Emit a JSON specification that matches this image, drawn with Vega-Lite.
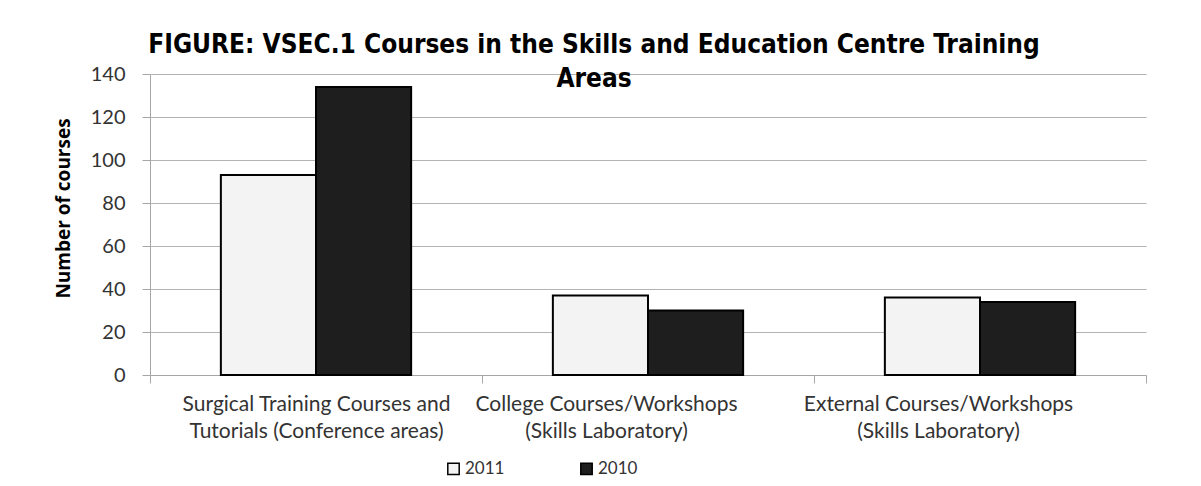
{
  "$schema": "https://vega.github.io/schema/vega-lite/v6.json",
  "width": 996,
  "height": 301,
  "autosize": {"type": "none"},
  "padding": {"left": 150, "top": 74, "right": 55, "bottom": 111},
  "background": "white",
  "title": {
    "text": ["FIGURE: VSEC.1 Courses in the Skills and Education Centre Training", "Areas"],
    "font": "DejaVu Sans Condensed, DejaVu Sans",
    "fontSize": 26,
    "fontWeight": "bold",
    "color": "#000000",
    "anchor": "middle",
    "dx": -54,
    "lineHeight": 34,
    "baseline": "top",
    "offset": -28,
    "frame": "group"
  },
  "data": {
    "values": [
      {"area": "Surgical Training Courses and|Tutorials (Conference areas)", "ord": 1, "year": "2011", "courses": 93},
      {"area": "Surgical Training Courses and|Tutorials (Conference areas)", "ord": 1, "year": "2010", "courses": 134},
      {"area": "College Courses/Workshops|(Skills Laboratory)", "ord": 2, "year": "2011", "courses": 37},
      {"area": "College Courses/Workshops|(Skills Laboratory)", "ord": 2, "year": "2010", "courses": 30},
      {"area": "External Courses/Workshops|(Skills Laboratory)", "ord": 3, "year": "2011", "courses": 36},
      {"area": "External Courses/Workshops|(Skills Laboratory)", "ord": 3, "year": "2010", "courses": 34}
    ]
  },
  "mark": {"type": "bar", "stroke": "#000000", "strokeWidth": 2},
  "encoding": {
    "x": {
      "field": "area",
      "type": "nominal",
      "sort": {"field": "ord"},
      "scale": {"paddingInner": 0, "paddingOuter": 0},
      "axis": {
        "title": null,
        "labelAngle": 0,
        "labelExpr": "split(datum.label, '|')",
        "labelLimit": 0,
        "labelFont": "Lato",
        "labelFontSize": 21,
        "labelColor": "#333333",
        "labelLineHeight": 27,
        "labelBaseline": "top",
        "labelPadding": 10,
        "labelOffset": {"condition": {"test": "datum.index > 0", "value": -42}, "value": 0},
        "tickBand": "extent",
        "tickSize": 8,
        "tickColor": "#a6a6a6",
        "domainColor": "#a6a6a6",
        "grid": false
      }
    },
    "xOffset": {"field": "year", "type": "nominal", "sort": ["2011", "2010"], "scale": {"paddingInner": 0, "paddingOuter": 0.745}},
    "y": {
      "field": "courses",
      "type": "quantitative",
      "scale": {"domain": [0, 140]},
      "axis": {
        "title": "Number of courses",
        "titleFont": "Open Sans",
        "titleFontSize": 19,
        "titleFontWeight": "bold",
        "titleColor": "#000000",
        "titleX": -87,
        "titleY": 134,
        "titleAngle": -90,
        "titleAlign": "center",
        "titleBaseline": "middle",
        "values": [0, 20, 40, 60, 80, 100, 120, 140],
        "labelFont": "Lato",
        "labelFontSize": 20,
        "labelColor": "#333333",
        "labelPadding": 17,
        "tickSize": 8,
        "tickColor": "#a6a6a6",
        "domainColor": "#a6a6a6",
        "gridColor": "#b3b3b3",
        "gridWidth": 1
      }
    },
    "fill": {
      "field": "year",
      "type": "nominal",
      "sort": ["2011", "2010"],
      "scale": {"domain": ["2011", "2010"], "range": ["#f3f3f3", "#1e1e1e"]},
      "legend": {
        "title": null,
        "orient": "none",
        "legendX": 295,
        "legendY": 386,
        "direction": "horizontal",
        "columns": 2,
        "columnPadding": 72,
        "symbolType": "square",
        "symbolSize": 130,
        "symbolStrokeColor": "#000000",
        "symbolStrokeWidth": 1.5,
        "labelFont": "Lato",
        "labelFontSize": 17,
        "labelColor": "#333333",
        "labelOffset": 3
      }
    }
  },
  "config": {
    "view": {"stroke": null}
  }
}
